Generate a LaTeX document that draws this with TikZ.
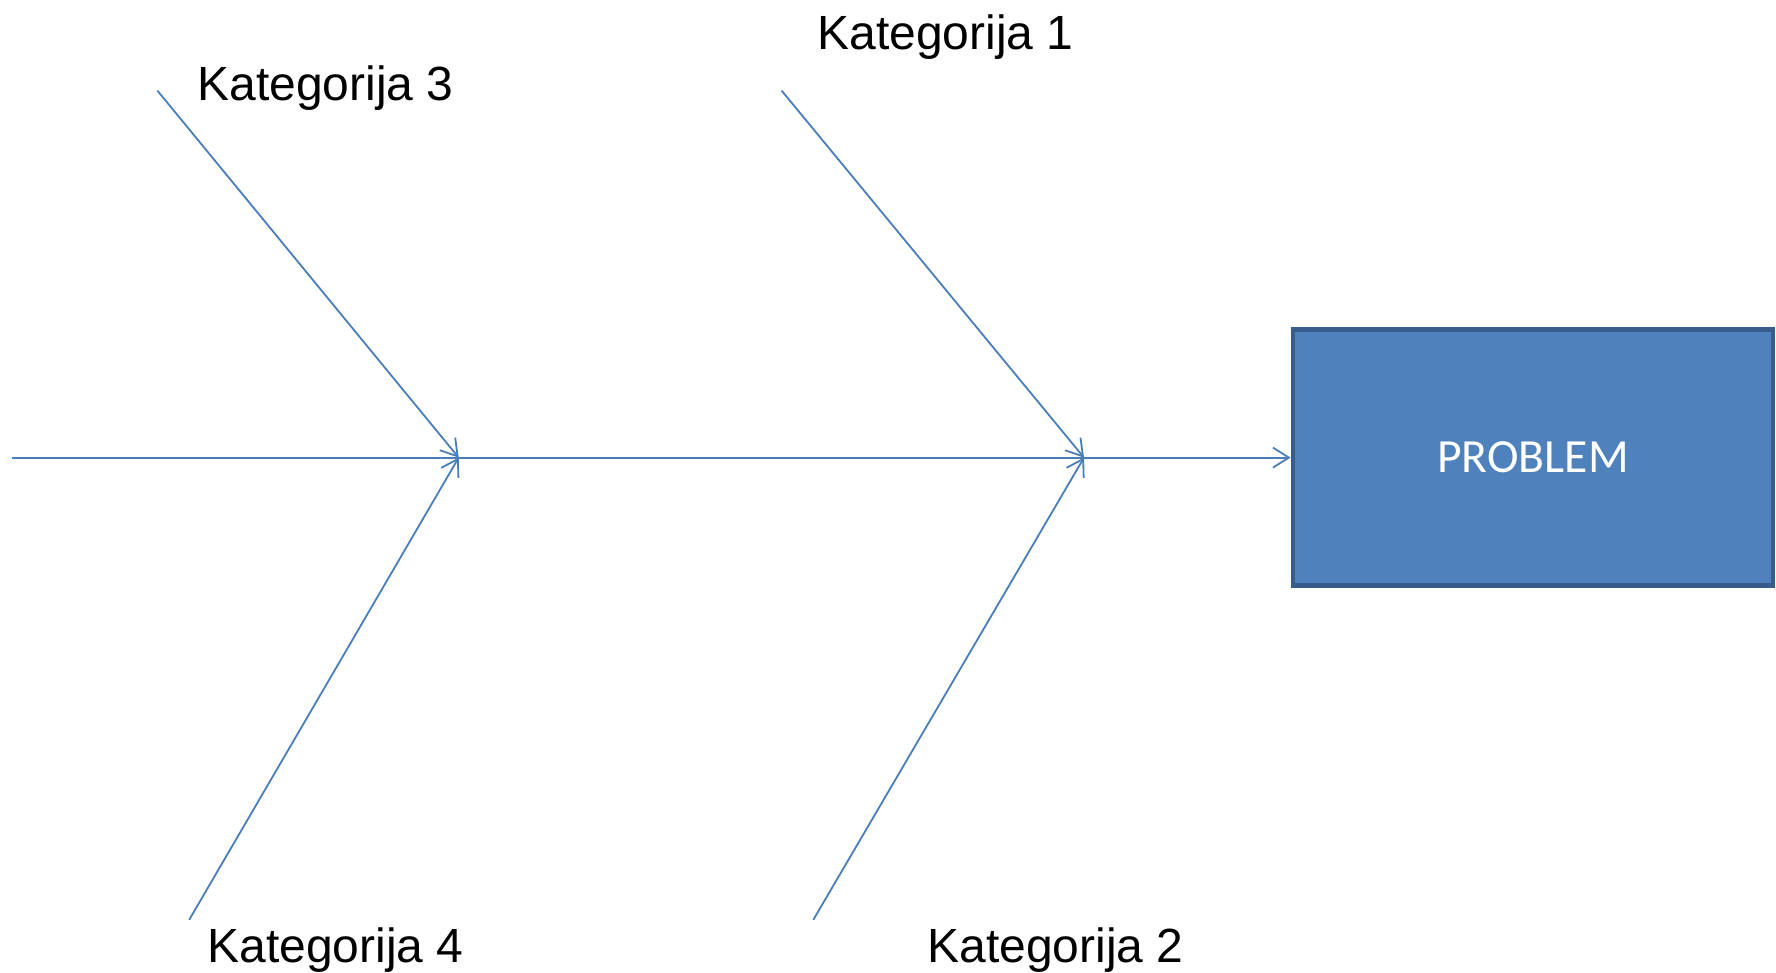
\documentclass[tikz,border=0pt]{standalone}
\usepackage{fontspec}
\setmainfont{Liberation Sans}
\newfontfamily\calibri{Carlito}
\usetikzlibrary{arrows.meta}
\definecolor{bonecol}{HTML}{4A7EBB}
\definecolor{headfill}{HTML}{4F81BD}
\definecolor{headdraw}{HTML}{385D8A}

\begin{document}
\begin{tikzpicture}[x=0.5pt,y=-0.5pt,
bone/.style={draw=bonecol,line width=0.9pt,-{Straight Barb[length=8pt,width=10pt]}},
cat label/.style={anchor=base west,inner sep=0pt,font=\fontsize{24}{28}\selectfont},
head node/.style={rectangle,draw=headdraw,fill=headfill,line width=2.4pt,
  minimum width=240pt,minimum height=128pt,text=white,font=\calibri\fontsize{23.8}{28}\selectfont}]

\useasboundingbox (0,0) rectangle (1776,973);

% head and spine
\node[head node] (problem) at (1533,457.6) {PROBLEM};
\coordinate (tail) at (12,457.6);
\coordinate (j1) at (1084,457.6);
\coordinate (j3) at (458.7,457.6);

% bone ends
\coordinate (b1) at (781.6,90.6);
\coordinate (b2) at (813.3,919.8);
\coordinate (b3) at (157.4,90.6);
\coordinate (b4) at (189.2,919.8);

% labels
\node[cat label] (k1) at (817,50) {Kategorija 1};
\node[cat label] (k2) at (927,962) {Kategorija 2};
\node[cat label] (k3) at (197,101) {Kategorija 3};
\node[cat label] (k4) at (207,962) {Kategorija 4};

\draw[bone] (tail) -- (problem.west);
\draw[bone] (b1) -- (j1);
\draw[bone] (b2) -- (j1);
\draw[bone] (b3) -- (j3);
\draw[bone] (b4) -- (j3);

\end{tikzpicture}
\end{document}
